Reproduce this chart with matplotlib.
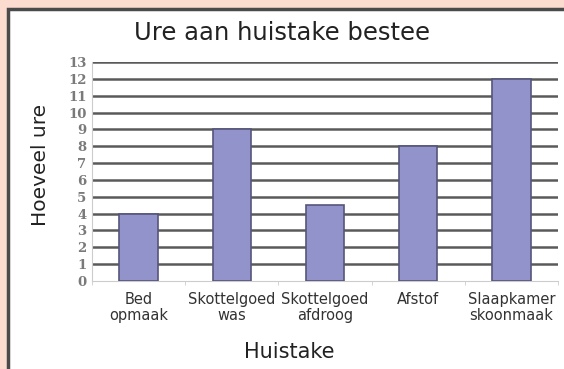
import matplotlib.pyplot as plt
import numpy as np
from matplotlib.patches import Rectangle

# hours spent per chore
categories = ["Bed\nopmaak", "Skottelgoed\nwas", "Skottelgoed\nafdroog", "Afstof", "Slaapkamer\nskoonmaak"]
hours = [4, 9, 4.5, 8, 12]
yticks = list(range(0, 14))

fig = plt.figure(figsize=(5.64, 3.69), dpi=100)
fig.patch.set_facecolor("#fddcd0")

# white panel with a dark frame on the left/top
panel = Rectangle((8 / 564, -0.05), 1.1, 1 - 9 / 369 + 0.05, transform=fig.transFigure,
                  facecolor="white", edgecolor="#4a4a4a", linewidth=2.5, zorder=-1)
fig.patches.append(panel)

ax = fig.add_axes([92 / 564, 1 - 281 / 369, 466 / 564, (281 - 62) / 369])
ax.set_zorder(2)
ax.set_facecolor("white")

x = np.arange(len(categories))
ax.bar(x, hours, width=0.41, color="#9393cb", edgecolor="#55557a", linewidth=1.2, zorder=3)

ax.set_xlim(-0.5, len(categories) - 0.5)
ax.set_ylim(0, 13)
ax.set_yticks(yticks)
ax.set_yticklabels([str(t) for t in yticks], fontsize=9.5, fontweight="bold",
                   color="#7a7a7a", family="DejaVu Serif")
for t in yticks[1:]:
    ax.axhline(t, color="#5a5a5a", linewidth=1.8, zorder=1)

ax.set_xticks(x)
ax.set_xticklabels(categories, fontsize=10.5, color="#333333", linespacing=1.05)
ax.set_xticks(np.arange(len(categories) + 1) - 0.5, minor=True)
ax.tick_params(axis="x", which="major", length=0, pad=8)
ax.tick_params(axis="x", which="minor", length=3, color="#cccccc", direction="out")
ax.tick_params(axis="y", length=0, pad=4)

for side in ["top", "right"]:
    ax.spines[side].set_visible(False)
ax.spines["left"].set_color("#cccccc")
ax.spines["bottom"].set_color("#cccccc")

fig.text(282 / 564, 1 - 33 / 369, "Ure aan huistake bestee", ha="center", va="center",
         fontsize=17.5, color="#222222", zorder=3)
fig.text(40 / 564, 1 - 165 / 369, "Hoeveel ure", ha="center", va="center",
         rotation=90, fontsize=14.5, color="#222222", zorder=3)
fig.text(289 / 564, 1 - 352 / 369, "Huistake", ha="center", va="center",
         fontsize=15, color="#222222", zorder=3)

fig.savefig("out.png", dpi=100, facecolor=fig.get_facecolor())
